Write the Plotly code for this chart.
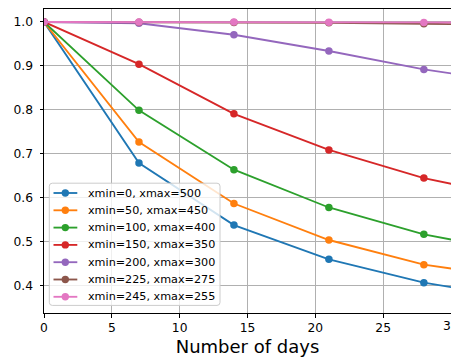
import plotly.graph_objects as go

# Survival fraction vs. elapsed days for several value windows
days = [0, 7, 14, 21, 28, 35]

labels = [
    "xmin=0, xmax=500",
    "xmin=50, xmax=450",
    "xmin=100, xmax=400",
    "xmin=150, xmax=350",
    "xmin=200, xmax=300",
    "xmin=225, xmax=275",
    "xmin=245, xmax=255",
]

frac_0_500 = [1.0, 0.679, 0.538, 0.460, 0.407, 0.372]
frac_50_450 = [1.0, 0.727, 0.587, 0.504, 0.448, 0.417]
frac_100_400 = [1.0, 0.799, 0.664, 0.578, 0.517, 0.476]
frac_150_350 = [1.0, 0.904, 0.791, 0.709, 0.645, 0.600]
frac_200_300 = [1.0, 0.997, 0.971, 0.934, 0.892, 0.861]
frac_225_275 = [1.0, 0.9995, 0.999, 0.998, 0.996, 0.993]
frac_245_255 = [1.0, 1.0, 1.0, 0.9995, 0.999, 0.998]

series = [frac_0_500, frac_50_450, frac_100_400, frac_150_350,
          frac_200_300, frac_225_275, frac_245_255]

colors = ["#1f77b4", "#ff7f0e", "#2ca02c", "#d62728",
          "#9467bd", "#8c564b", "#e377c2"]

x_ticks = [0, 5, 10, 15, 20, 25, 30]
y_ticks = [0.4, 0.5, 0.6, 0.7, 0.8, 0.9, 1.0]

font_family = "DejaVu Sans"
W, H = 451, 358
L, R, T, B = 44, 0, 9.3, 44.7
plot_w = W - L - R
plot_h = H - T - B


def px(xp):
    """Horizontal pixel -> paper fraction."""
    return (xp - L) / plot_w


def py(yp):
    """Vertical pixel (from top) -> paper fraction."""
    return (H - B - yp) / plot_h


fig = go.Figure()
for name, vals, col in zip(labels, series, colors):
    fig.add_trace(go.Scatter(
        x=days, y=vals, name=name, mode="lines+markers",
        line=dict(color=col, width=1.85),
        marker=dict(color=col, size=7.5, symbol="circle"),
        showlegend=False,
    ))

# Legend box drawn by hand so entries can sit closer together
shapes = []
annotations = []
box_l, box_t, box_r, box_b, rad = 49.3, 183.5, 220.0, 305.7, 3.0
path = (
    f"M {px(box_l + rad)},{py(box_t)} "
    f"L {px(box_r - rad)},{py(box_t)} "
    f"Q {px(box_r)},{py(box_t)} {px(box_r)},{py(box_t + rad)} "
    f"L {px(box_r)},{py(box_b - rad)} "
    f"Q {px(box_r)},{py(box_b)} {px(box_r - rad)},{py(box_b)} "
    f"L {px(box_l + rad)},{py(box_b)} "
    f"Q {px(box_l)},{py(box_b)} {px(box_l)},{py(box_b - rad)} "
    f"L {px(box_l)},{py(box_t + rad)} "
    f"Q {px(box_l)},{py(box_t)} {px(box_l + rad)},{py(box_t)} Z"
)
shapes.append(dict(type="path", xref="paper", yref="paper", path=path,
                   fillcolor="rgba(255,255,255,0.8)",
                   line=dict(color="#cccccc", width=1), layer="above"))

row0, row_step = 193.3, 17.3
for i, (name, col) in enumerate(zip(labels, colors)):
    yc = row0 + i * row_step
    shapes.append(dict(type="line", xref="paper", yref="paper",
                       x0=px(53.5), x1=px(77.3), y0=py(yc), y1=py(yc),
                       line=dict(color=col, width=1.85), layer="above"))
    shapes.append(dict(type="circle", xref="paper", yref="paper",
                       xsizemode="pixel", ysizemode="pixel",
                       xanchor=px(65.3), yanchor=py(yc),
                       x0=-3.7, x1=3.7, y0=-3.7, y1=3.7,
                       fillcolor=col, line=dict(color=col, width=0),
                       layer="above"))
    annotations.append(dict(xref="paper", yref="paper", x=px(85.5), y=py(yc),
                            text=name, showarrow=False,
                            xanchor="left", yanchor="middle",
                            font=dict(family=font_family, size=11.2,
                                      color="black")))

# Last x tick label at the right edge of the axes
annotations.append(dict(xref="x", yref="paper", x=30, y=py(326.7),
                        text="30", showarrow=False,
                        xanchor="center", yanchor="middle",
                        font=dict(family=font_family, size=12.3,
                                  color="black")))

fig.update_layout(
    width=W, height=H,
    margin=dict(l=L, r=R, t=T, b=B, pad=0),
    paper_bgcolor="white", plot_bgcolor="white",
    font=dict(family=font_family, size=12.3, color="black"),
    showlegend=False,
    shapes=shapes,
    annotations=annotations,
)

fig.update_xaxes(
    range=[0, 30], tickvals=x_ticks[:-1],
    ticktext=[str(v) for v in x_ticks[:-1]],
    showgrid=True, gridcolor="#b0b0b0", gridwidth=1,
    showline=True, linecolor="black", linewidth=1, mirror=True,
    ticks="outside", ticklen=3.5, tickwidth=1, tickcolor="black",
    zeroline=False,
    tickfont=dict(family=font_family, size=12.3, color="black"),
    title=dict(text="Number of days", standoff=6,
               font=dict(family=font_family, size=18, color="black")),
    automargin=False,
)
fig.update_yaxes(
    range=[0.338, 1.0295], tickvals=y_ticks,
    ticktext=[f"{v:.1f}" for v in y_ticks],
    showgrid=True, gridcolor="#b0b0b0", gridwidth=1,
    showline=True, linecolor="black", linewidth=1, mirror=False,
    ticks="outside", ticklen=3.5, tickwidth=1, tickcolor="black",
    zeroline=False,
    tickfont=dict(family=font_family, size=12.3, color="black"),
    ticklabelstandoff=4,
    automargin=False,
)

fig.write_html("out.html")
